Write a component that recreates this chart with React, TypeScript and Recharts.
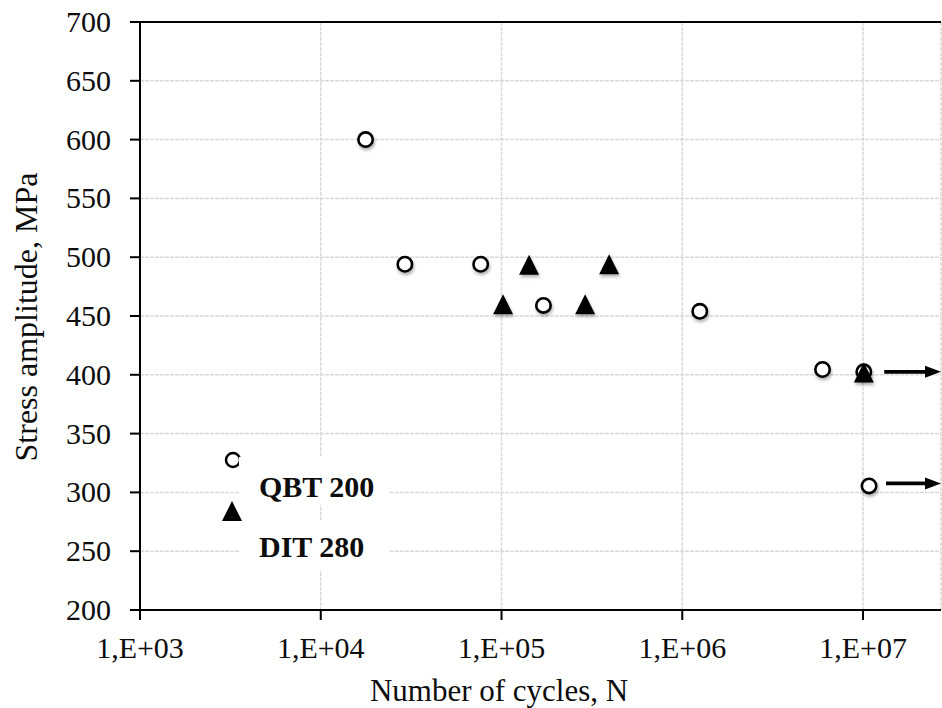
import {
    ScatterChart,
    Scatter,
    XAxis,
    YAxis,
    CartesianGrid,
    ReferenceLine,
    Legend,
} from 'recharts';

const seriesNames = ['QBT 200', 'DIT 280'];

// QBT 200 (open circles)
const qbtCycles = [17700, 29200, 76700, 170600, 1250000, 5970000, 10100000, 10800000];
const qbtStress = [600, 494, 494, 459, 454, 404.5, 402.5, 305.5];

// DIT 280 (filled triangles)
const ditCycles = [102000, 142000, 290000, 394000, 10100000];
const ditStress = [460, 493.5, 460, 494, 402];

// run-outs (arrows)
const runoutFrom = [13100000, 13400000];
const runoutStress = [402.5, 307.6];

const X_MAX = 2.7e7;
const xTicks = [1e3, 1e4, 1e5, 1e6, 1e7];
const xMinorTicks = [
    2e3, 3e3, 4e3, 5e3, 6e3, 7e3, 8e3, 9e3,
    2e4, 3e4, 4e4, 5e4, 6e4, 7e4, 8e4, 9e4,
    2e5, 3e5, 4e5, 5e5, 6e5, 7e5, 8e5, 9e5,
    2e6, 3e6, 4e6, 5e6, 6e6, 7e6, 8e6, 9e6,
    2e7,
];
const yTicks = [200, 250, 300, 350, 400, 450, 500, 550, 600, 650, 700];
const yMinorTicks = [225, 275, 325, 375, 425, 475, 525, 575, 625, 675];

const qbtData = qbtCycles.map((n, i) => ({ n, s: qbtStress[i] }));
const ditData = ditCycles.map((n, i) => ({ n, s: ditStress[i] }));

const FONT = "'Liberation Serif', 'Times New Roman', serif";
const INK = '#0d0d0d';

const fmtExp = (v: number) => {
    const e = Math.round(Math.log10(v));
    return `1,E+${e < 10 ? '0' + e : e}`;
};

const XTick = ({ x, y, payload }: any) => (
    <text x={x} y={y + 36} textAnchor="middle" fontFamily={FONT} fontSize={30} fill={INK}>
        {fmtExp(payload.value)}
    </text>
);

const YTick = ({ x, y, payload }: any) => (
    <text x={x - 17} y={y + 10} textAnchor="end" fontFamily={FONT} fontSize={30} fill={INK}>
        {payload.value}
    </text>
);

const CircleMark = ({ cx, cy }: any) => (
    <circle cx={cx} cy={cy} r={7.2} fill="#fff" stroke="#000" strokeWidth={2.6} filter="url(#mk-shadow)" />
);

const TriangleMark = ({ cx, cy }: any) => (
    <polygon
        points={`${cx},${cy - 10} ${cx + 10},${cy + 10} ${cx - 10},${cy + 10}`}
        fill="#000"
        filter="url(#mk-shadow)"
    />
);

const Arrow = ({ x1, y1, x2 }: any) => (
    <g>
        <line x1={x1} y1={y1} x2={x2 - 12} y2={y1} stroke="#000" strokeWidth={3.8} />
        <polygon points={`${x2},${y1} ${x2 - 16},${y1 - 6} ${x2 - 16},${y1 + 6}`} fill="#000" />
    </g>
);

const LegendBox = () => (
    <svg width={190} height={140} style={{ display: 'block', overflow: 'visible' }}>
        <circle cx={18} cy={20} r={7} fill="#fff" stroke="#000" strokeWidth={2.5} />
        <rect x={24} y={17} width={150} height={48} fill="#fff" />
        <rect x={24} y={80} width={150} height={50} fill="#fff" />
        <polygon points="17,61 27,81 7,81" fill="#000" />
        <text x={44} y={57} fontFamily={FONT} fontSize={30} fontWeight="bold" fill={INK}>
            {seriesNames[0]}
        </text>
        <text x={44} y={117} fontFamily={FONT} fontSize={30} fontWeight="bold" fill={INK}>
            {seriesNames[1]}
        </text>
    </svg>
);

export default function App() {
    return (
        <div style={{ position: 'absolute', left: 0, top: 0, width: 942, height: 708, background: '#fff' }}>
            <svg width={0} height={0} style={{ position: 'absolute' }}>
                <defs>
                    <filter id="mk-shadow" x="-50%" y="-50%" width="200%" height="200%">
                        <feDropShadow dx={1} dy={2.5} stdDeviation={1.8} floodColor="#000" floodOpacity={0.3} />
                    </filter>
                </defs>
            </svg>
            <ScatterChart width={942} height={708} margin={{ top: 22, right: 1, bottom: 0, left: 0 }}>
                <CartesianGrid stroke="#d9d9d9" strokeWidth={1.5} strokeDasharray="4 1" />
                <XAxis
                    xAxisId="minor"
                    type="number"
                    dataKey="n"
                    scale="log"
                    domain={[1000, X_MAX]}
                    allowDataOverflow
                    ticks={xMinorTicks}
                    interval={0}
                    height={0}
                    axisLine={false}
                    tick={false}
                    tickSize={7}
                    tickLine={{ stroke: '#000', strokeWidth: 2 }}
                />
                <XAxis
                    type="number"
                    dataKey="n"
                    scale="log"
                    domain={[1000, X_MAX]}
                    allowDataOverflow
                    ticks={xTicks}
                    interval={0}
                    height={98}
                    tickSize={10}
                    tick={<XTick />}
                    axisLine={{ stroke: '#000', strokeWidth: 2 }}
                    tickLine={{ stroke: '#000', strokeWidth: 2 }}
                    label={{
                        content: () => (
                            <text x={499} y={701} textAnchor="middle" fontFamily={FONT} fontSize={31} fill={INK}>
                                Number of cycles, N
                            </text>
                        ),
                    }}
                />
                <YAxis
                    yAxisId="minor"
                    type="number"
                    dataKey="s"
                    domain={[200, 700]}
                    ticks={yMinorTicks}
                    interval={0}
                    width={0}
                    axisLine={false}
                    tick={false}
                    tickSize={7}
                    tickLine={{ stroke: '#000', strokeWidth: 2 }}
                />
                <YAxis
                    type="number"
                    dataKey="s"
                    domain={[200, 700]}
                    ticks={yTicks}
                    interval={0}
                    width={140}
                    tickSize={10}
                    tick={<YTick />}
                    axisLine={{ stroke: '#000', strokeWidth: 2 }}
                    tickLine={{ stroke: '#000', strokeWidth: 2 }}
                    label={{
                        content: () => (
                            <text
                                x={37}
                                y={317}
                                transform="rotate(-90 37 317)"
                                textAnchor="middle"
                                fontFamily={FONT}
                                fontSize={32}
                                fill={INK}
                            >
                                Stress amplitude, MPa
                            </text>
                        ),
                    }}
                />
                <ReferenceLine y={700} stroke="#000" strokeWidth={2} />
                {runoutStress.map((s, i) => (
                    <ReferenceLine
                        key={i}
                        segment={[
                            { x: runoutFrom[i], y: s },
                            { x: X_MAX, y: s },
                        ]}
                        shape={<Arrow />}
                    />
                ))}
                <Scatter name={seriesNames[0]} data={qbtData} shape={<CircleMark />} isAnimationActive={false} />
                <Scatter name={seriesNames[1]} data={ditData} shape={<TriangleMark />} isAnimationActive={false} />
                <Legend
                    layout="horizontal"
                    verticalAlign="middle"
                    align="center"
                    content={<LegendBox />}
                    wrapperStyle={{ left: 215, top: 440, width: 190, height: 140 }}
                />
            </ScatterChart>
        </div>
    );
}
